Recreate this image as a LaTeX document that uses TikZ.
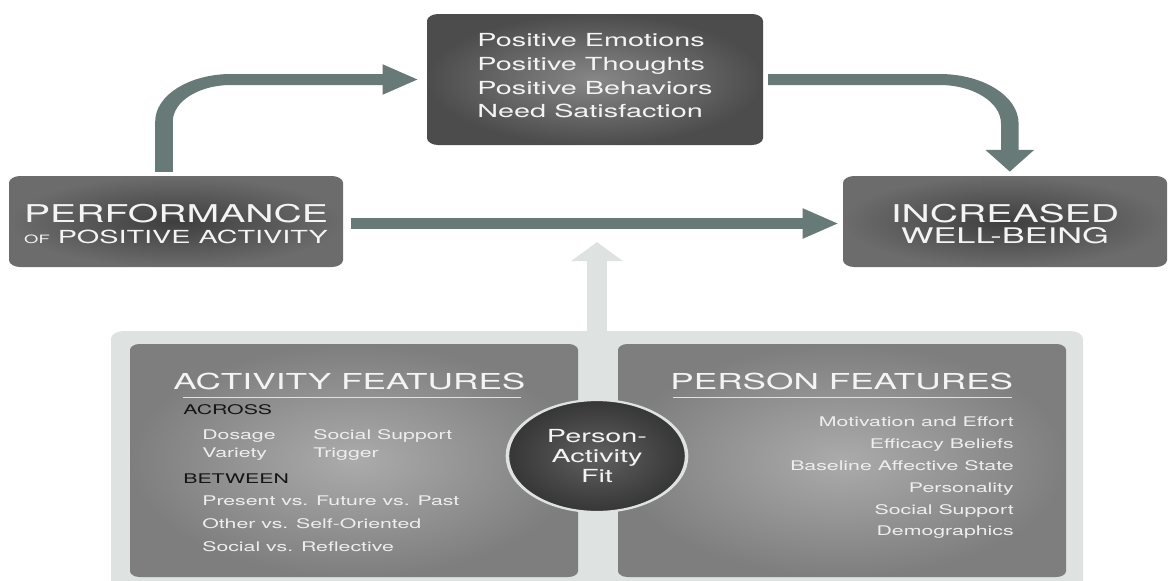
\documentclass[tikz,border=0pt]{standalone}
\usepackage{fontspec}
\setmainfont{TeX Gyre Heros}
\usepackage{tikz}
\usetikzlibrary{arrows.meta, positioning, shapes.geometric}

\definecolor{flowgray}{HTML}{677A78}
\definecolor{panelgray}{HTML}{DEE3E1}
\definecolor{boxtext}{HTML}{F4F4F4}
\definecolor{itemtext}{HTML}{EEEEEE}
\definecolor{subtext}{HTML}{151515}
\definecolor{darkmid}{HTML}{3E3E3E}
\definecolor{darkedge}{HTML}{6C6C6C}
\definecolor{topmid}{HTML}{878787}
\definecolor{topedge}{HTML}{4C4C4C}
\definecolor{featmid}{HTML}{ABABAB}
\definecolor{featedge}{HTML}{7E7E7E}
\definecolor{fitmid}{HTML}{606060}
\definecolor{fitedge}{HTML}{363636}

\tikzstyle{darkbox} = [rectangle, rounded corners=7pt, inner sep=0pt, minimum height=91pt, align=center, text=boxtext, inner color=darkmid, outer color=darkedge, font=\fontsize{18}{21}\selectfont]
\tikzstyle{featbox} = [rectangle, rounded corners=6pt, minimum width=280pt, minimum height=233pt, inner color=featmid, outer color=featedge]
\tikzstyle{panel} = [rectangle, rounded corners=8pt, minimum width=607.5pt, minimum height=264pt, fill=panelgray]
\tikzstyle{fitcircle} = [circle, minimum size=112pt, inner sep=0pt, draw=panelgray, line width=2.2pt, inner color=fitmid, outer color=fitedge, align=center, text=boxtext, font=\fontsize{18}{20}\selectfont]
\tikzstyle{flow} = [line width=11pt, draw=flowgray, -{Triangle[length=22pt,width=29pt]}]
\tikzstyle{lift} = [line width=12pt, draw=panelgray, -{Triangle[length=19pt,width=31pt]}]
\tikzstyle{head} = [anchor=base west, inner sep=0pt, text=boxtext, font=\fontsize{22}{26}\selectfont]
\tikzstyle{sub} = [anchor=base west, inner sep=0pt, text=subtext, font=\fontsize{13.3}{16}\selectfont]
\tikzstyle{item} = [anchor=base west, inner sep=0pt, text=itemtext, font=\fontsize{13.3}{16}\selectfont]
\tikzstyle{ritem} = [item, anchor=base east]
\tikzstyle{rule} = [draw=panelgray, line width=0.8pt]

\begin{document}
\begin{tikzpicture}
\useasboundingbox (0,0) rectangle (1171pt,-581pt);
\begin{scope}[x=0.625pt, y=-1pt, transform canvas={xscale=1.6}]
\clip (0,0) rectangle (1171,581);

% lower panel and the lift arrow
\node (panel) [panel] at (597,463) {};
\coordinate (liftend) at (597,242);
\draw [lift] (panel.north) -- (liftend);

\node (actfeat) [featbox] at (354,460.5) {};
\node (persfeat) [featbox] at (842,460.5) {};

% top row
\node (outcomes) [darkbox, minimum width=210pt, minimum height=131pt, align=left, inner color=topmid, outer color=topedge, font=\fontsize{18}{23.6}\selectfont] at (595,79.5) {Positive Emotions\\Positive Thoughts\\Positive Behaviors\\Need Satisfaction\rule[-7.4pt]{0pt}{0pt}};
\node (perf) [darkbox, minimum width=208.75pt] at (176,221.5) {{\fontsize{24.5}{21}\selectfont\rule{0pt}{24pt}PERFORMANCE}\\{\fontsize{11.5}{21}\selectfont OF} POSITIVE ACTIVITY};
\node (wellbeing) [darkbox, minimum width=202.5pt] at (1005,221.5) {{\fontsize{24.5}{21}\selectfont\rule{0pt}{24pt}INCREASED}\\{\fontsize{21.5}{21}\selectfont WELL-BEING}};

\draw [flow, rounded corners=42pt, shorten <=4pt, shorten >=5.6pt] ([xshift=-7.5pt]perf.north) |- (outcomes);
\draw [flow, rounded corners=44pt, shorten <=3pt, shorten >=4pt] (outcomes) -| ([xshift=3pt]wellbeing.north);
\draw [flow, shorten <=5pt, shorten >=3pt] ([yshift=-2pt]perf.east) -- ([yshift=-2pt]wellbeing.west);

% activity features
\node (acthead) [head] at (173,389) {ACTIVITY FEATURES};
\draw [rule] (183,397) -- (521,397);
\node (across) [sub] at (183,414) {ACROSS};
\node (dosage) [item] at (202,439) {Dosage};
\node (socsup) [item] at (313,439) {Social Support};
\node (variety) [item] at (202,457) {Variety};
\node (trigger) [item] at (313,457) {Trigger};
\node (between) [sub] at (183,483) {BETWEEN};
\node (tense) [item] at (202,505) {Present vs. Future vs. Past};
\node (orient) [item] at (202,528) {Other vs. Self-Oriented};
\node (mode) [item] at (202,551) {Social vs. Reflective};

% person features
\node (pershead) [head] at (670,389) {PERSON FEATURES};
\draw [rule] (673,397) -- (1012,397);
\node (motiv) [ritem] at (1014,426) {Motivation and Effort};
\node (efficacy) [ritem] at (1014,448) {Efficacy Beliefs};
\node (baseline) [ritem] at (1014,470) {Baseline Affective State};
\node (personality) [ritem] at (1014,492) {Personality};
\node (support) [ritem] at (1014,514) {Social Support};
\node (demo) [ritem] at (1014,535) {Demographics};

\node (fit) [fitcircle] at (597,456) {Person-\\Activity\\Fit};
\end{scope}
\end{tikzpicture}
\end{document}
